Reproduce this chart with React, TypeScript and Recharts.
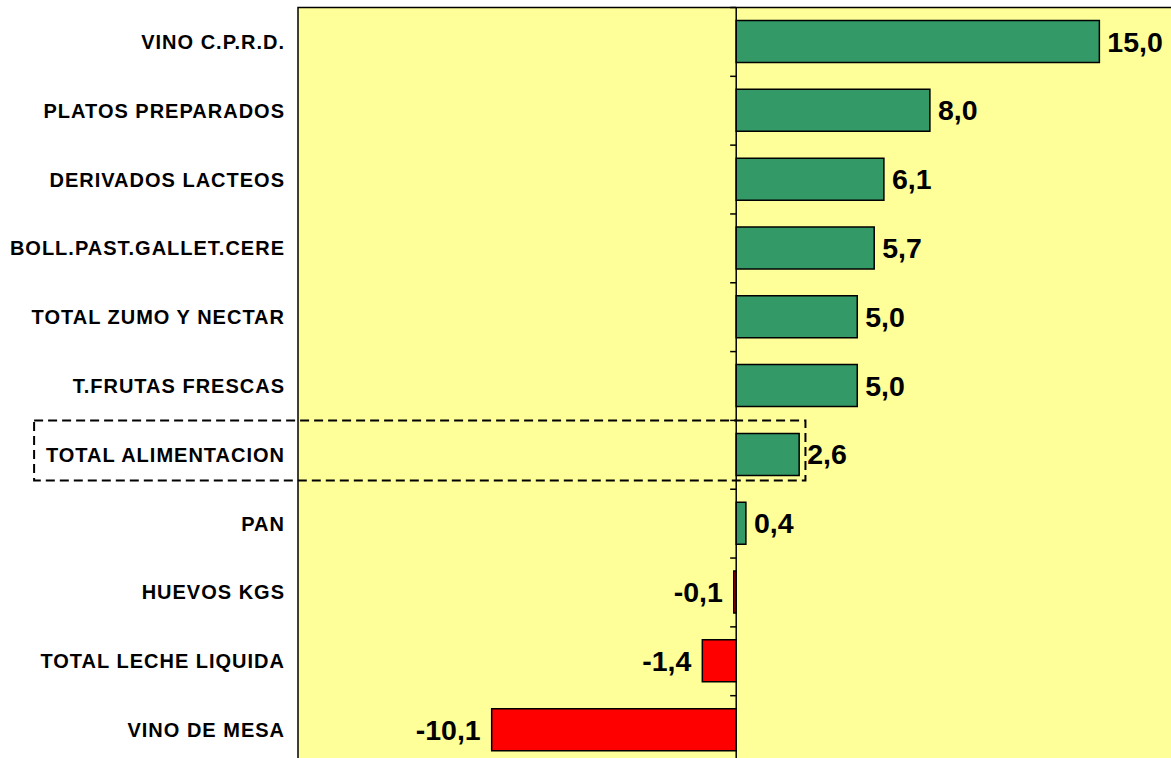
import React from 'react';
import {
  BarChart,
  Bar,
  Cell,
  XAxis,
  YAxis,
  CartesianGrid,
  ReferenceLine,
  ReferenceArea,
  LabelList,
} from 'recharts';

const categories = [
  'VINO C.P.R.D.',
  'PLATOS PREPARADOS',
  'DERIVADOS LACTEOS',
  'BOLL.PAST.GALLET.CERE',
  'TOTAL ZUMO Y NECTAR',
  'T.FRUTAS FRESCAS',
  'TOTAL ALIMENTACION',
  'PAN',
  'HUEVOS KGS',
  'TOTAL LECHE LIQUIDA',
  'VINO DE MESA',
];
const variation = [15.0, 8.0, 6.1, 5.7, 5.0, 5.0, 2.6, 0.4, -0.1, -1.4, -10.1];
const highlighted = 'TOTAL ALIMENTACION';

const FONT = 'Arial, "Liberation Sans", sans-serif';
const data = categories.map((name, i) => ({ name, value: variation[i] }));

const fmt = (v: number) => v.toFixed(1).replace('.', ',');

const CategoryTick = (props: any) => {
  const { x, y, payload } = props;
  return (
    <text
      x={x + 1}
      y={y}
      dy={7}
      textAnchor="end"
      fill="#000"
      fontFamily={FONT}
      fontSize={20}
      fontWeight="bold"
      letterSpacing={1}
    >
      {payload.value}
    </text>
  );
};

const ValueLabel = (props: any) => {
  const vb = props.viewBox || props;
  const x = vb.x ?? props.x;
  const y = vb.y ?? props.y;
  const width = vb.width ?? props.width;
  const height = vb.height ?? props.height;
  const v = Number(props.value);
  const left = Math.min(x, x + width);
  const right = Math.max(x, x + width);
  const pos = v >= 0;
  return (
    <text
      x={pos ? right + 8 : left - 11}
      y={y + height / 2 + 10}
      textAnchor={pos ? 'start' : 'end'}
      fill="#000"
      fontFamily={FONT}
      fontSize={28.5}
      fontWeight="bold"
    >
      {fmt(v)}
    </text>
  );
};

const DashedBox = (props: any) => {
  const { x, y, width, height } = props;
  return (
    <rect
      x={x}
      y={y}
      width={width}
      height={height * 0.872}
      fill="none"
      stroke="#000"
      strokeWidth={2}
      strokeDasharray="9 5"
    />
  );
};

export default function App() {
  return (
    <div
      style={{
        position: 'absolute',
        left: 0,
        top: 0,
        width: 1171,
        height: 758,
        overflow: 'hidden',
        background: '#fff',
      }}
    >
      <BarChart
        width={1172}
        height={765}
        data={data}
        layout="vertical"
        margin={{ top: 7.5, right: 0, bottom: 0.5, left: 0 }}
        barSize={42}
      >
        <CartesianGrid fill="#FFFF99" fillOpacity={1} horizontal={false} vertical={false} />
        <XAxis type="number" domain={[-18.1, 18]} allowDataOverflow hide />
        <YAxis
          type="category"
          dataKey="name"
          width={298}
          tickLine={false}
          axisLine={false}
          tickSize={0}
          tickMargin={14}
          interval={0}
          tick={<CategoryTick />}
        />
        <ReferenceArea
          x1={-18.1}
          x2={18}
          fill="none"
          stroke="#000"
          strokeWidth={1.5}
          ifOverflow="visible"
        />
        <Bar dataKey="value" stroke="#000" strokeWidth={1.5} isAnimationActive={false}>
          {data.map((d) => (
            <Cell key={d.name} fill={d.value >= 0 ? '#339966' : '#FF0000'} />
          ))}
          <LabelList dataKey="value" content={<ValueLabel />} />
        </Bar>
        <ReferenceLine x={0} stroke="#000" strokeWidth={1.5} ifOverflow="visible" />
        {categories.map((c) => (
          <ReferenceLine
            key={`tick-${c}`}
            segment={[
              { x: -0.25, y: c },
              { x: 0, y: c },
            ]}
            position="start"
            stroke="#000"
            strokeWidth={1.5}
            ifOverflow="visible"
          />
        ))}
        <ReferenceArea
          x1={-29}
          x2={2.86}
          y1={highlighted}
          y2={highlighted}
          ifOverflow="visible"
          shape={<DashedBox />}
        />
      </BarChart>
    </div>
  );
}
